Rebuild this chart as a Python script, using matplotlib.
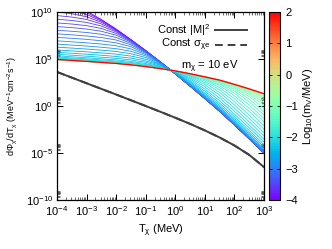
import numpy as np
import matplotlib
matplotlib.use('Agg')
import matplotlib.pyplot as plt
from matplotlib.ticker import FixedLocator, NullFormatter
import matplotlib.colors as mcolors
import matplotlib.cm as cm

plt.rcParams['font.family'] = ['Liberation Sans', 'DejaVu Sans']
plt.rcParams['mathtext.fontset'] = 'custom'
plt.rcParams['mathtext.rm'] = 'Liberation Sans'
plt.rcParams['mathtext.it'] = 'Liberation Sans:italic'
plt.rcParams['mathtext.sf'] = 'Liberation Sans'
plt.rcParams['mathtext.default'] = 'regular'

# ---------------- data ----------------
# kinetic energy grid, log10(T / MeV)
log_T = [-4.0, -3.5, -3.0, -2.5, -2.0, -1.5, -1.0, -0.5, 0.0, 0.5, 1.0, 1.5, 2.0, 2.5, 3.0]

# log10 flux for each mediator mass, log10(m_V / MeV)
flux_m4p0 = [11.08, 10.72, 10.09, 9.20, 8.18, 7.06, 5.89, 4.67, 3.42, 2.12, 0.79, -0.56, -2.01, -3.49, -5.01]
flux_m3p9 = [10.74, 10.45, 9.94, 9.14, 8.16, 7.05, 5.89, 4.67, 3.42, 2.12, 0.79, -0.56, -2.01, -3.49, -5.01]
flux_m3p8 = [10.38, 10.15, 9.74, 9.04, 8.12, 7.04, 5.88, 4.67, 3.42, 2.12, 0.79, -0.56, -2.01, -3.49, -5.01]
flux_m3p7 = [10.00, 9.82, 9.49, 8.91, 8.07, 7.02, 5.88, 4.67, 3.42, 2.12, 0.79, -0.56, -2.01, -3.49, -5.01]
flux_m3p6 = [9.62, 9.46, 9.21, 8.73, 7.99, 6.99, 5.87, 4.67, 3.42, 2.12, 0.80, -0.55, -2.00, -3.48, -5.00]
flux_m3p5 = [9.23, 9.10, 8.89, 8.51, 7.88, 6.95, 5.86, 4.66, 3.42, 2.13, 0.80, -0.55, -2.00, -3.48, -5.00]
flux_m3p4 = [8.84, 8.72, 8.55, 8.25, 7.72, 6.89, 5.84, 4.66, 3.43, 2.13, 0.80, -0.55, -2.00, -3.48, -5.00]
flux_m3p3 = [8.45, 8.34, 8.19, 7.95, 7.53, 6.80, 5.80, 4.65, 3.43, 2.13, 0.81, -0.54, -1.99, -3.47, -4.99]
flux_m3p2 = [8.06, 7.95, 7.82, 7.63, 7.29, 6.67, 5.76, 4.64, 3.43, 2.14, 0.82, -0.53, -1.98, -3.46, -4.98]
flux_m3p1 = [7.68, 7.57, 7.45, 7.29, 7.02, 6.51, 5.69, 4.63, 3.43, 2.15, 0.83, -0.52, -1.97, -3.45, -4.97]
flux_m3p0 = [7.30, 7.20, 7.09, 6.94, 6.72, 6.31, 5.60, 4.60, 3.44, 2.17, 0.85, -0.50, -1.95, -3.43, -4.95]
flux_m2p9 = [6.93, 6.83, 6.72, 6.59, 6.41, 6.07, 5.48, 4.57, 3.45, 2.19, 0.88, -0.47, -1.92, -3.40, -4.92]
flux_m2p8 = [6.59, 6.48, 6.38, 6.25, 6.10, 5.82, 5.33, 4.53, 3.46, 2.23, 0.92, -0.42, -1.87, -3.35, -4.87]
flux_m2p7 = [6.26, 6.16, 6.06, 5.94, 5.80, 5.56, 5.16, 4.46, 3.48, 2.29, 0.99, -0.35, -1.79, -3.27, -4.79]
flux_m2p6 = [5.97, 5.86, 5.76, 5.65, 5.52, 5.31, 4.98, 4.39, 3.51, 2.36, 1.09, -0.24, -1.69, -3.17, -4.69]
flux_m2p5 = [5.71, 5.61, 5.51, 5.40, 5.27, 5.09, 4.80, 4.32, 3.54, 2.46, 1.22, -0.10, -1.54, -3.02, -4.54]
flux_m2p4 = [5.50, 5.40, 5.30, 5.19, 5.07, 4.90, 4.65, 4.24, 3.57, 2.59, 1.38, 0.08, -1.36, -2.83, -4.35]
flux_m2p3 = [5.34, 5.23, 5.13, 5.02, 4.91, 4.74, 4.52, 4.17, 3.61, 2.72, 1.58, 0.30, -1.13, -2.60, -4.12]
flux_m2p2 = [5.21, 5.11, 5.01, 4.90, 4.79, 4.63, 4.42, 4.11, 3.64, 2.87, 1.80, 0.56, -0.86, -2.32, -3.84]
flux_m2p1 = [5.12, 5.02, 4.92, 4.81, 4.70, 4.55, 4.35, 4.07, 3.67, 3.00, 2.04, 0.84, -0.55, -2.02, -3.53]
flux_m2p0 = [5.06, 4.96, 4.86, 4.75, 4.64, 4.49, 4.30, 4.04, 3.69, 3.12, 2.26, 1.14, -0.23, -1.68, -3.19]
flux_m1p9 = [5.02, 4.92, 4.82, 4.71, 4.60, 4.45, 4.26, 4.02, 3.70, 3.21, 2.47, 1.43, 0.11, -1.33, -2.83]
flux_m1p8 = [5.00, 4.90, 4.80, 4.69, 4.58, 4.43, 4.24, 4.00, 3.71, 3.28, 2.64, 1.71, 0.44, -0.97, -2.46]
flux_m1p7 = [4.98, 4.88, 4.78, 4.67, 4.56, 4.41, 4.23, 4.00, 3.72, 3.33, 2.78, 1.96, 0.77, -0.60, -2.09]
flux_m1p6 = [4.97, 4.87, 4.77, 4.66, 4.55, 4.40, 4.22, 3.99, 3.72, 3.37, 2.88, 2.17, 1.08, -0.24, -1.71]
flux_m1p5 = [4.96, 4.86, 4.76, 4.65, 4.54, 4.39, 4.21, 3.99, 3.73, 3.39, 2.95, 2.34, 1.36, 0.10, -1.33]
flux_m1p4 = [4.96, 4.86, 4.76, 4.65, 4.54, 4.39, 4.21, 3.98, 3.73, 3.40, 3.00, 2.47, 1.60, 0.43, -0.96]
flux_m1p3 = [4.96, 4.86, 4.76, 4.65, 4.54, 4.39, 4.21, 3.98, 3.73, 3.41, 3.04, 2.56, 1.80, 0.73, -0.60]
flux_m1p2 = [4.95, 4.85, 4.75, 4.64, 4.53, 4.38, 4.20, 3.98, 3.73, 3.42, 3.06, 2.63, 1.95, 1.00, -0.26]
flux_m1p1 = [4.95, 4.85, 4.75, 4.64, 4.53, 4.38, 4.20, 3.98, 3.73, 3.42, 3.08, 2.67, 2.06, 1.22, 0.06]
flux_m1p0 = [4.95, 4.85, 4.75, 4.64, 4.53, 4.38, 4.20, 3.98, 3.73, 3.43, 3.08, 2.70, 2.14, 1.40, 0.35]
flux_m0p9 = [4.95, 4.85, 4.75, 4.64, 4.53, 4.38, 4.20, 3.98, 3.73, 3.43, 3.09, 2.72, 2.20, 1.53, 0.59]
flux_m0p8 = [4.95, 4.85, 4.75, 4.64, 4.53, 4.38, 4.20, 3.98, 3.73, 3.43, 3.09, 2.73, 2.23, 1.63, 0.79]
flux_m0p7 = [4.95, 4.85, 4.75, 4.64, 4.53, 4.38, 4.20, 3.98, 3.73, 3.43, 3.10, 2.74, 2.26, 1.69, 0.95]
flux_m0p6 = [4.95, 4.85, 4.75, 4.64, 4.53, 4.38, 4.20, 3.98, 3.73, 3.43, 3.10, 2.74, 2.27, 1.74, 1.06]
flux_m0p5 = [4.95, 4.85, 4.75, 4.64, 4.53, 4.38, 4.20, 3.98, 3.73, 3.43, 3.10, 2.74, 2.28, 1.77, 1.14]
flux_heavy = [4.95, 4.85, 4.75, 4.64, 4.53, 4.38, 4.20, 3.98, 3.73, 3.43, 3.10, 2.75, 2.30, 1.82, 1.30]

log_mV = [-4.0, -3.9, -3.8, -3.7, -3.6, -3.5, -3.4, -3.3, -3.2, -3.1,
          -3.0, -2.9, -2.8, -2.7, -2.6, -2.5, -2.4, -2.3, -2.2, -2.1,
          -2.0, -1.9, -1.8, -1.7, -1.6, -1.5, -1.4, -1.3, -1.2, -1.1,
          -1.0, -0.9, -0.8, -0.7, -0.6, -0.5, 2.0]

# reference curves (log10 flux)
flux_const_M2 = [3.62, 3.02, 2.42, 1.82, 1.22, 0.61, 0.00, -0.62, -1.25, -1.90, -2.60, -3.35, -4.20, -5.20, -6.50]
flux_const_sigma = [3.62, 3.02, 2.42, 1.82, 1.22, 0.61, 0.00, -0.62, -1.25, -1.90, -2.60, -3.35, -4.20, -5.20, -6.50]

x_ticks = [-4, -3, -2, -1, 0, 1, 2, 3]
y_ticks = [-10, -5, 0, 5, 10]
cbar_ticks = [-4, -3, -2, -1, 0, 1, 2]

curves = [flux_m4p0, flux_m3p9, flux_m3p8, flux_m3p7, flux_m3p6, flux_m3p5, flux_m3p4,
          flux_m3p3, flux_m3p2, flux_m3p1, flux_m3p0, flux_m2p9, flux_m2p8, flux_m2p7,
          flux_m2p6, flux_m2p5, flux_m2p4, flux_m2p3, flux_m2p2, flux_m2p1, flux_m2p0,
          flux_m1p9, flux_m1p8, flux_m1p7, flux_m1p6, flux_m1p5, flux_m1p4, flux_m1p3,
          flux_m1p2, flux_m1p1, flux_m1p0, flux_m0p9, flux_m0p8, flux_m0p7, flux_m0p6,
          flux_m0p5, flux_heavy]

# ---------------- figure ----------------
FS = 8
W, H = 332, 249
fig = plt.figure(figsize=(W / 100, H / 100), dpi=100)
L, R, T, B = 57, 264, 12, 200
ax = fig.add_axes([L / W, 1 - B / H, (R - L) / W, (B - T) / H])

cmap = plt.get_cmap('rainbow')
norm = mcolors.Normalize(vmin=-4, vmax=2)

T_vals = 10.0 ** np.array(log_T)
for lm, row in zip(log_mV, curves):
    lw = 1.0 if lm >= 2 else 0.6
    ax.plot(T_vals, 10.0 ** np.array(row), color=cmap(norm(lm)), lw=lw, solid_capstyle='butt')

ax.plot(T_vals, 10.0 ** np.array(flux_const_M2), color='#404040', lw=1.4)
ax.plot(T_vals, 10.0 ** np.array(flux_const_sigma), color='#404040', lw=1.4, ls=(0, (4, 2.5)))

ax.set_xscale('log')
ax.set_yscale('log')
ax.set_xlim(1e-4, 1e3)
ax.set_ylim(1e-10, 1e10)

ax.xaxis.set_major_locator(FixedLocator([10.0 ** k for k in x_ticks]))
ax.set_xticklabels([r'$10^{%d}$' % k for k in x_ticks])
ax.xaxis.set_minor_locator(FixedLocator([m * 10.0 ** k for k in x_ticks[:-1] for m in range(2, 10)]))
ax.yaxis.set_major_locator(FixedLocator([10.0 ** k for k in y_ticks]))
ax.set_yticklabels([r'$10^{%d}$' % k for k in y_ticks])
ax.yaxis.set_minor_locator(FixedLocator([m * 10.0 ** k for k in y_ticks[:-1] for m in range(2, 10)]))
ax.xaxis.set_minor_formatter(NullFormatter())
ax.yaxis.set_minor_formatter(NullFormatter())

ax.tick_params(which='both', direction='in', top=True, right=True, labelsize=FS, pad=3)
ax.tick_params(which='major', length=4, width=0.7)
ax.tick_params(which='minor', length=2, width=0.6, color='#555555')
for s in ax.spines.values():
    s.set_linewidth(0.9)

ax.set_xlabel(r'T$_\chi$ (MeV)', fontsize=FS, labelpad=3)
ax.set_ylabel(r'd$\Phi_\chi$/dT$_\chi$ (MeV$^{-1}$cm$^{-2}$s$^{-1}$)', fontsize=6.5, labelpad=5)

# legend-like annotations
def ax_frac(px, py):
    return ((px - L) / (R - L), (B - py) / (B - T))

x_txt, y1 = ax_frac(210, 30)
_, y2 = ax_frac(210, 45)
x_l0, _ = ax_frac(215, 30)
x_l1, _ = ax_frac(247, 30)
ax.text(x_txt, y1, r'Const |M|$^2$', transform=ax.transAxes, ha='right', va='center', fontsize=FS)
ax.text(x_txt, y2, r'Const $\sigma_{\chi e}$', transform=ax.transAxes, ha='right', va='center', fontsize=FS)
ax.plot([x_l0, x_l1], [y1, y1], transform=ax.transAxes, color='#404040', lw=1.4)
ax.plot([x_l0, x_l1], [y2, y2], transform=ax.transAxes, color='#404040', lw=1.4, ls=(0, (4, 2.5)))
xm, ym = ax_frac(210, 67)
ax.text(xm, ym, r'm$_\chi$ = 10 eV', transform=ax.transAxes, ha='center', va='center', fontsize=FS)

# colorbar
cax = fig.add_axes([269 / W, 1 - B / H, 11 / W, (B - T) / H])
sm = cm.ScalarMappable(norm=norm, cmap=cmap)
cb = fig.colorbar(sm, cax=cax, ticks=cbar_ticks)
cb.ax.tick_params(direction='in', length=2.5, width=0.6, left=True, right=True, labelsize=FS, pad=4)
cb.outline.set_linewidth(0.8)
cb.set_label(r'Log$_{10}$(m$_V$/MeV)', fontsize=FS, labelpad=2)

fig.savefig('out.png', dpi=100)
